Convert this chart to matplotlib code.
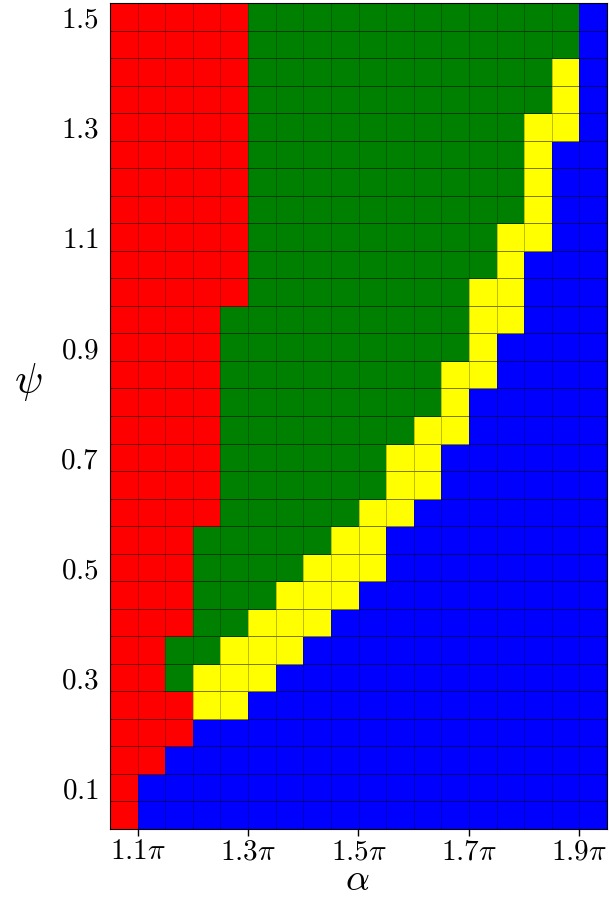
import numpy as np
import matplotlib
matplotlib.use("Agg")
import matplotlib.pyplot as plt
from matplotlib.colors import ListedColormap

plt.rcParams['mathtext.fontset'] = 'cm'

# psi rows, listed from the top of the chart (1.5) down to 0.05
psi = [1.50, 1.45, 1.40, 1.35, 1.30, 1.25, 1.20, 1.15, 1.10, 1.05,
       1.00, 0.95, 0.90, 0.85, 0.80, 0.75, 0.70, 0.65, 0.60, 0.55,
       0.50, 0.45, 0.40, 0.35, 0.30, 0.25, 0.20, 0.15, 0.10, 0.05]
# number of cells of each region per row, left to right (rest is blue)
n_red    = [5, 5, 5, 5, 5, 5, 5, 5, 5, 5, 5, 4, 4, 4, 4, 4, 4, 4, 4, 3,
            3, 3, 3, 2, 2, 3, 3, 2, 1, 1]
n_green  = [12, 12, 11, 11, 10, 10, 10, 10, 9, 9, 8, 9, 9, 8, 8, 7, 6, 6, 5, 5,
            4, 3, 2, 2, 1, 0, 0, 0, 0, 0]
n_yellow = [0, 0, 1, 1, 2, 1, 1, 1, 2, 1, 2, 2, 1, 2, 1, 2, 2, 2, 2, 2,
            3, 3, 3, 3, 3, 2, 0, 0, 0, 0]

# alpha grid (in units of pi), cell edges
alpha_edges = np.arange(1.05, 1.951, 0.05)
ncols = len(alpha_edges) - 1

region_colors = ['red', 'green', 'yellow', 'blue']

grid = []
for r, g, y in zip(n_red, n_green, n_yellow):
    row = [0] * r + [1] * g + [2] * y
    row += [3] * (ncols - len(row))
    grid.append(row)
grid = np.array(grid[::-1])
psi_c = np.array(psi[::-1])
psi_edges = np.append(psi_c - 0.025, psi_c[-1] + 0.025)

fig = plt.figure(figsize=(6.1, 8.97), dpi=100)
ax = fig.add_axes([110 / 610, 1 - 829 / 897, 497 / 610, 826 / 897])

ax.pcolormesh(alpha_edges, psi_edges, grid, cmap=ListedColormap(region_colors),
              vmin=-0.5, vmax=3.5, edgecolors=(0, 0, 0, 0.25), linewidth=0.6)
# row separators a bit darker than the column ones
for yb in psi_edges[1:-1]:
    ax.axhline(yb, color='k', lw=0.7, alpha=0.35)

ax.set_xlim(alpha_edges[0], alpha_edges[-1])
ax.set_ylim(psi_edges[0], psi_edges[-1])

xt = [1.1, 1.3, 1.5, 1.7, 1.9]
ax.set_xticks(xt)
ax.set_xticklabels([r'$%.1f\pi$' % v for v in xt], fontsize=21)
yt = [0.1, 0.3, 0.5, 0.7, 0.9, 1.1, 1.3, 1.5]
ax.set_yticks(yt)
ax.set_yticklabels([r'$%.1f$' % v for v in yt], fontsize=21)

ax.tick_params(axis='x', direction='out', length=5, width=1, pad=1)
ax.tick_params(axis='y', length=0, pad=8)
for t in ax.xaxis.get_major_ticks()[1:]:
    t.tick1line.set_color('blue')

ax.set_xlabel(r'$\alpha$', fontsize=27, va='center')
ax.xaxis.set_label_coords(0.497, -0.062)
ax.set_ylabel(r'$\psi$', fontsize=30, rotation=0, va='center', ha='center')
ax.yaxis.set_label_coords(-0.165, 0.541)

for s in ax.spines.values():
    s.set_linewidth(0.8)

fig.savefig('out.png', dpi=100)
